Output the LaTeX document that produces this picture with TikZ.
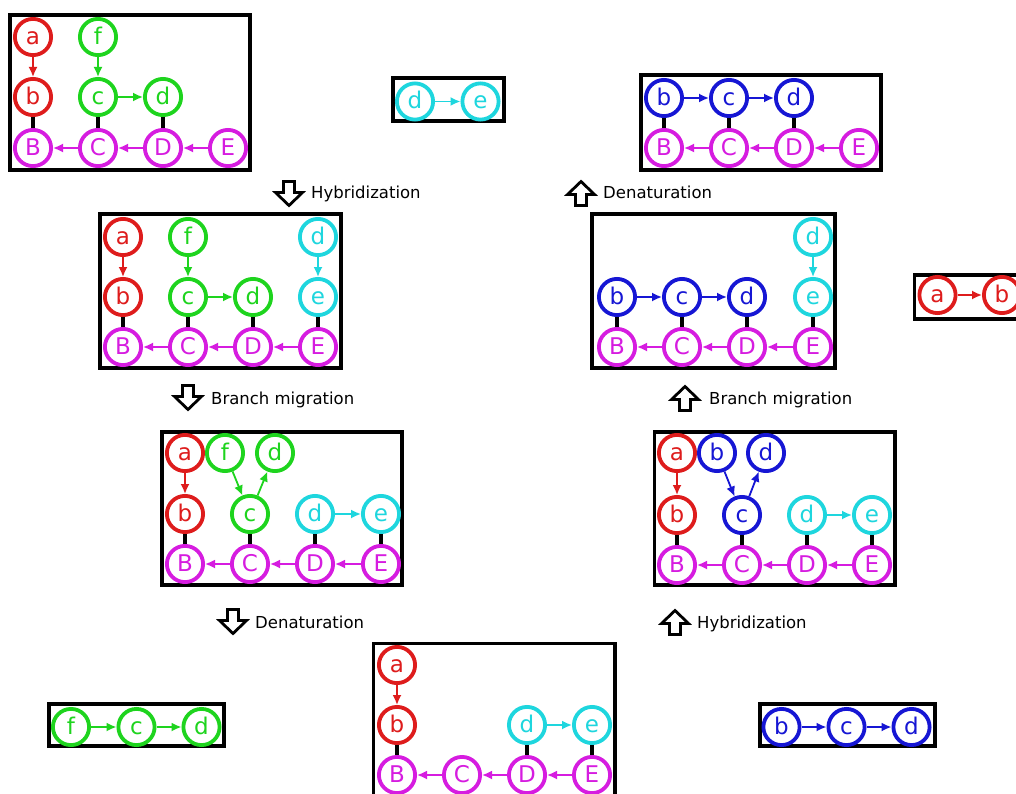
\documentclass[tikz,border=0pt]{standalone}
\usepackage{fontspec}
\setmainfont{DejaVu Sans}
\usetikzlibrary{arrows.meta}
\definecolor{colR}{RGB}{222,28,28}
\definecolor{colG}{RGB}{30,212,30}
\definecolor{colC}{RGB}{30,214,222}
\definecolor{colB}{RGB}{22,22,212}
\definecolor{colM}{RGB}{214,28,224}
\tikzset{
  base/.style={circle, line width=3.8pt, minimum size=36.2pt, inner sep=0pt,
    font=\fontsize{23}{23}\selectfont, text height=15pt, text depth=0pt, fill=white},
  R/.style={base, draw=colR, text=colR},
  G/.style={base, draw=colG, text=colG},
  Cy/.style={base, draw=colC, text=colC},
  Bl/.style={base, draw=colB, text=colB},
  M/.style={base, draw=colM, text=colM},
  ar/.style={line width=1.8pt, -{Latex[length=10pt,width=9pt]}},
  arR/.style={ar, colR}, arG/.style={ar, colG}, arC/.style={ar, colC},
  arB/.style={ar, colB}, arM/.style={ar, colM},
  bond/.style={line width=3.4pt, black},
  frame/.style={line width=3.4pt, black},
  lbl/.style={anchor=base west, inner sep=0pt, font=\fontsize{16.5}{18}\selectfont},
  blockarrow/.pic={\draw[line width=2.8pt, line join=miter, fill=white]
     (-5.5,-12.5) -- (5.5,-12.5) -- (5.5,-1.5) -- (13.5,-1.5) -- (0,11.5)
     -- (-13.5,-1.5) -- (-5.5,-1.5) -- cycle;}
}
\begin{document}
\begin{tikzpicture}[x=1pt,y=-1pt]
\clip (0,0) rectangle (1016,794);
\fill[white] (0,0) rectangle (1016,794);

% ---------- frames ----------
\draw[frame] (10,15) rectangle (250,170);
\draw[frame] (393,78) rectangle (504,121);
\draw[frame] (641,75) rectangle (881,170);
\draw[frame] (100,214) rectangle (341,368);
\draw[frame] (592,214) rectangle (835,368);
\draw[frame] (914.5,275) rectangle (1080,319);
\draw[frame] (162,432) rectangle (402,585);
\draw[frame] (654.5,432) rectangle (895,585);
\draw[frame] (373.5,643.5) rectangle (615,830);
\draw[frame] (49,704) rectangle (224,746);
\draw[frame] (760,704) rectangle (935,746);

% ---------- block arrows and labels ----------
\pic at (289,194) {blockarrow};
\node[lbl] (l1) at (311,199) {Hybridization};
\pic[rotate=180] at (581,193) {blockarrow};
\node[lbl] (l2) at (603,199) {Denaturation};
\pic at (188,398) {blockarrow};
\node[lbl] (l3) at (211,404) {Branch migration};
\pic[rotate=180] at (685,398) {blockarrow};
\node[lbl] (l4) at (709,404) {Branch migration};
\pic at (233,622) {blockarrow};
\node[lbl] (l5) at (255,628) {Denaturation};
\pic[rotate=180] at (675,622) {blockarrow};
\node[lbl] (l6) at (697,628) {Hybridization};

% ---------- box 1 ----------
\node[R] (Aa) at (33,37) {a};
\node[R] (Ab) at (33,97) {b};
\node[M] (AB) at (33,148) {B};
\node[G] (Af) at (98,37) {f};
\node[G] (Ac) at (98,97) {c};
\node[G] (Ad) at (163,97) {d};
\node[M] (AC) at (98,148) {C};
\node[M] (AD) at (163,148) {D};
\node[M] (AE) at (228,148) {E};
\draw[arR] (Aa) -- (Ab);
\draw[arG] (Af) -- (Ac);
\draw[arG] (Ac) -- (Ad);
\draw[arM] (AE) -- (AD);
\draw[arM] (AD) -- (AC);
\draw[arM] (AC) -- (AB);
\draw[bond] (Ab) -- (AB);
\draw[bond] (Ac) -- (AC);
\draw[bond] (Ad) -- (AD);

% ---------- top d-e ----------
\node[Cy] (Td) at (415,101.5) {d};
\node[Cy] (Te) at (480.5,101.5) {e};
\draw[arC] (Td) -- (Te);

% ---------- top right ----------
\node[Bl] (Ub) at (664,98) {b};
\node[Bl] (Uc) at (729,98) {c};
\node[Bl] (Ud) at (794,98) {d};
\node[M] (UB) at (664,148) {B};
\node[M] (UC) at (729,148) {C};
\node[M] (UD) at (794,148) {D};
\node[M] (UE) at (859,148) {E};
\draw[arB] (Ub) -- (Uc);
\draw[arB] (Uc) -- (Ud);
\draw[arM] (UE) -- (UD);
\draw[arM] (UD) -- (UC);
\draw[arM] (UC) -- (UB);
\draw[bond] (Ub) -- (UB);
\draw[bond] (Uc) -- (UC);
\draw[bond] (Ud) -- (UD);

% ---------- box 2 ----------
\node[R] (Ha) at (123,237) {a};
\node[R] (Hb) at (123,297) {b};
\node[M] (HB) at (123,347) {B};
\node[G] (Hf) at (188,237) {f};
\node[G] (Hc) at (188,297) {c};
\node[G] (Hd) at (253,297) {d};
\node[M] (HC) at (188,347) {C};
\node[M] (HD) at (253,347) {D};
\node[Cy] (Hdd) at (318,237) {d};
\node[Cy] (He) at (318,297) {e};
\node[M] (HE) at (318,347) {E};
\draw[arR] (Ha) -- (Hb);
\draw[arG] (Hf) -- (Hc);
\draw[arG] (Hc) -- (Hd);
\draw[arC] (Hdd) -- (He);
\draw[arM] (HE) -- (HD);
\draw[arM] (HD) -- (HC);
\draw[arM] (HC) -- (HB);
\draw[bond] (Hb) -- (HB);
\draw[bond] (Hc) -- (HC);
\draw[bond] (Hd) -- (HD);
\draw[bond] (He) -- (HE);

% ---------- right middle ----------
\node[Cy] (Kdd) at (813,237) {d};
\node[Cy] (Ke) at (813,297) {e};
\node[Bl] (Kb) at (617,297) {b};
\node[Bl] (Kc) at (682,297) {c};
\node[Bl] (Kd) at (747,297) {d};
\node[M] (KB) at (617,347) {B};
\node[M] (KC) at (682,347) {C};
\node[M] (KD) at (747,347) {D};
\node[M] (KE) at (813,347) {E};
\draw[arC] (Kdd) -- (Ke);
\draw[arB] (Kb) -- (Kc);
\draw[arB] (Kc) -- (Kd);
\draw[arM] (KE) -- (KD);
\draw[arM] (KD) -- (KC);
\draw[arM] (KC) -- (KB);
\draw[bond] (Kb) -- (KB);
\draw[bond] (Kc) -- (KC);
\draw[bond] (Kd) -- (KD);
\draw[bond] (Ke) -- (KE);

% ---------- a-b right ----------
\node[R] (Pa) at (937.5,295) {a};
\node[R] (Pb) at (1002,295) {b};
\draw[arR] (Pa) -- (Pb);

% ---------- box 3 ----------
\node[R] (Sa) at (185,453) {a};
\node[G] (Sf) at (225,453) {f};
\node[G] (Sdg) at (275,453) {d};
\node[R] (Sb) at (185,514) {b};
\node[G] (Sc) at (250,514) {c};
\node[Cy] (Sdc) at (315,514) {d};
\node[Cy] (Se) at (381,514) {e};
\node[M] (SB) at (185,564) {B};
\node[M] (SC) at (250,564) {C};
\node[M] (SD) at (315,564) {D};
\node[M] (SE) at (381,564) {E};
\draw[arR] (Sa) -- (Sb);
\draw[arG] (Sf) -- (Sc);
\draw[arG] (Sc) -- (Sdg);
\draw[arC] (Sdc) -- (Se);
\draw[arM] (SE) -- (SD);
\draw[arM] (SD) -- (SC);
\draw[arM] (SC) -- (SB);
\draw[bond] (Sb) -- (SB);
\draw[bond] (Sc) -- (SC);
\draw[bond] (Sdc) -- (SD);
\draw[bond] (Se) -- (SE);

% ---------- box 5 ----------
\node[R] (Va) at (677,453) {a};
\node[Bl] (Vbb) at (717,453) {b};
\node[Bl] (Vdb) at (766,453) {d};
\node[R] (Vb) at (677,515) {b};
\node[Bl] (Vc) at (742,515) {c};
\node[Cy] (Vdc) at (807,515) {d};
\node[Cy] (Ve) at (872,515) {e};
\node[M] (VB) at (677,565) {B};
\node[M] (VC) at (742,565) {C};
\node[M] (VD) at (807,565) {D};
\node[M] (VE) at (872,565) {E};
\draw[arR] (Va) -- (Vb);
\draw[arB] (Vbb) -- (Vc);
\draw[arB] (Vc) -- (Vdb);
\draw[arC] (Vdc) -- (Ve);
\draw[arM] (VE) -- (VD);
\draw[arM] (VD) -- (VC);
\draw[arM] (VC) -- (VB);
\draw[bond] (Vb) -- (VB);
\draw[bond] (Vc) -- (VC);
\draw[bond] (Vdc) -- (VD);
\draw[bond] (Ve) -- (VE);

% ---------- box 4 (bottom centre) ----------
\node[R] (Wa) at (397,665) {a};
\node[R] (Wb) at (397,725) {b};
\node[Cy] (Wdc) at (527,725) {d};
\node[Cy] (We) at (592,725) {e};
\node[M] (WB) at (397,775) {B};
\node[M] (WC) at (462,775) {C};
\node[M] (WD) at (527,775) {D};
\node[M] (WE) at (592,775) {E};
\draw[arR] (Wa) -- (Wb);
\draw[arC] (Wdc) -- (We);
\draw[arM] (WE) -- (WD);
\draw[arM] (WD) -- (WC);
\draw[arM] (WC) -- (WB);
\draw[bond] (Wb) -- (WB);
\draw[bond] (Wdc) -- (WD);
\draw[bond] (We) -- (WE);

% ---------- f-c-d bottom left ----------
\node[G] (Ff) at (71,727) {f};
\node[G] (Fc) at (136.5,727) {c};
\node[G] (Fd) at (201.5,727) {d};
\draw[arG] (Ff) -- (Fc);
\draw[arG] (Fc) -- (Fd);

% ---------- b-c-d bottom right ----------
\node[Bl] (Gb) at (781.5,727) {b};
\node[Bl] (Gc) at (846.5,727) {c};
\node[Bl] (Gd) at (911.5,727) {d};
\draw[arB] (Gb) -- (Gc);
\draw[arB] (Gc) -- (Gd);
\end{tikzpicture}
\end{document}
